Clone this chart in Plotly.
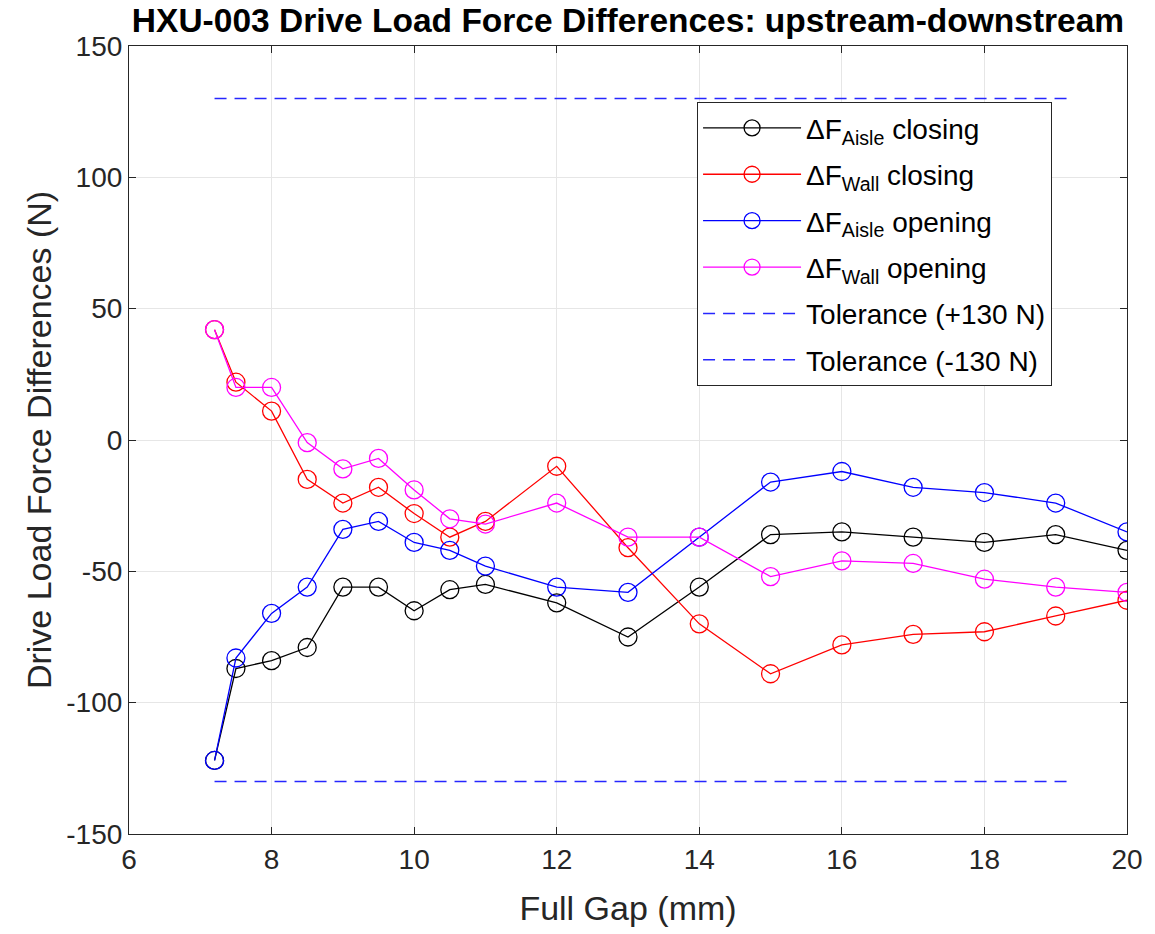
import plotly.graph_objects as go

# Full gap positions (mm)
gap_mm = [7.2, 7.5, 8, 8.5, 9, 9.5, 10, 10.5, 11, 12, 13, 14, 15, 16, 17, 18, 19, 20]

# Upstream-downstream force differences (N)
aisle_closing = [-122, -87, -84, -79, -56, -56, -65, -57, -55, -62, -75, -56, -36, -35, -37, -39, -36, -42]
wall_closing = [42, 22, 11, -15, -24, -18, -28, -37, -31, -10, -41, -70, -89, -78, -74, -73, -67, -61]
aisle_opening = [-122, -83, -66, -56, -34, -31, -39, -42, -48, -56, -58, -37, -16, -12, -18, -20, -24, -35]
wall_opening = [42, 20, 20, -1, -11, -7, -19, -30, -32, -24, -37, -37, -52, -46, -47, -53, -56, -58]

# Tolerance band
tol_x = [7.2, 19.2]
tol_upper = [130, 130]
tol_lower = [-130, -130]

# Axis ticks
x_ticks = [6, 8, 10, 12, 14, 16, 18, 20]
y_ticks = [-150, -100, -50, 0, 50, 100, 150]
y_tick_labels = ["-150", "-100", "-50", "0", "50", "100", "150"]

series = [
    ("ΔF<sub>Aisle</sub> closing", aisle_closing, "#000000"),
    ("ΔF<sub>Wall</sub> closing", wall_closing, "#FF0000"),
    ("ΔF<sub>Aisle</sub> opening", aisle_opening, "#0000FF"),
    ("ΔF<sub>Wall</sub> opening", wall_opening, "#FF00FF"),
]

FONT = "Liberation Sans, Arial, Helvetica, sans-serif"

fig = go.Figure()
for i, (name, vals, color) in enumerate(series):
    fig.add_trace(go.Scatter(
        x=gap_mm, y=vals, name=name, mode="lines+markers", legendgroup=f"g{i}",
        line=dict(color=color, width=1.3),
        marker=dict(symbol="circle-open", size=18, color=color, line=dict(width=1.3)),
    ))

for j, (name, vals) in enumerate([("Tolerance (+130 N)", tol_upper), ("Tolerance (-130 N)", tol_lower)]):
    fig.add_trace(go.Scatter(
        x=tol_x, y=vals, name=name, mode="lines", legendgroup=f"t{j}",
        line=dict(color="#2626FF", width=1.5, dash="12px,8px"),
    ))

axis_common = dict(
    showline=True, linecolor="#262626", linewidth=1.2, mirror="ticks",
    ticks="inside", ticklen=7, tickcolor="#262626",
    showgrid=True, gridcolor="#E6E6E6", gridwidth=1, zeroline=False,
    tickfont=dict(family=FONT, size=28, color="#262626"),
)

fig.update_layout(
    width=1155, height=934,
    paper_bgcolor="white", plot_bgcolor="white",
    margin=dict(l=129, r=28, t=46, b=100),
    title=dict(
        text="<b>HXU-003 Drive Load Force Differences: upstream-downstream</b>",
        xref="paper", x=0.5, xanchor="center", y=0.978, yanchor="middle",
        font=dict(family=FONT, size=33.5, color="#000000"),
    ),
    xaxis=dict(
        range=[6, 20], tickmode="array", tickvals=x_ticks,
        title=dict(text="Full Gap (mm)", standoff=22,
                   font=dict(family=FONT, size=34, color="#262626")),
        **axis_common,
    ),
    yaxis=dict(
        range=[-150, 150], tickmode="array", tickvals=y_ticks, ticktext=y_tick_labels,
        title=dict(text="Drive Load Force Differences (N)", standoff=4,
                   font=dict(family=FONT, size=34, color="#262626")),
        **axis_common,
    ),
    legend=dict(
        x=0.569, y=0.929, xanchor="left", yanchor="top",
        bgcolor="white", bordercolor="#262626", borderwidth=1.2,
        font=dict(family=FONT, size=28, color="#000000"),
        itemwidth=98, tracegroupgap=7,
    ),
)

fig.write_html("out.html")
